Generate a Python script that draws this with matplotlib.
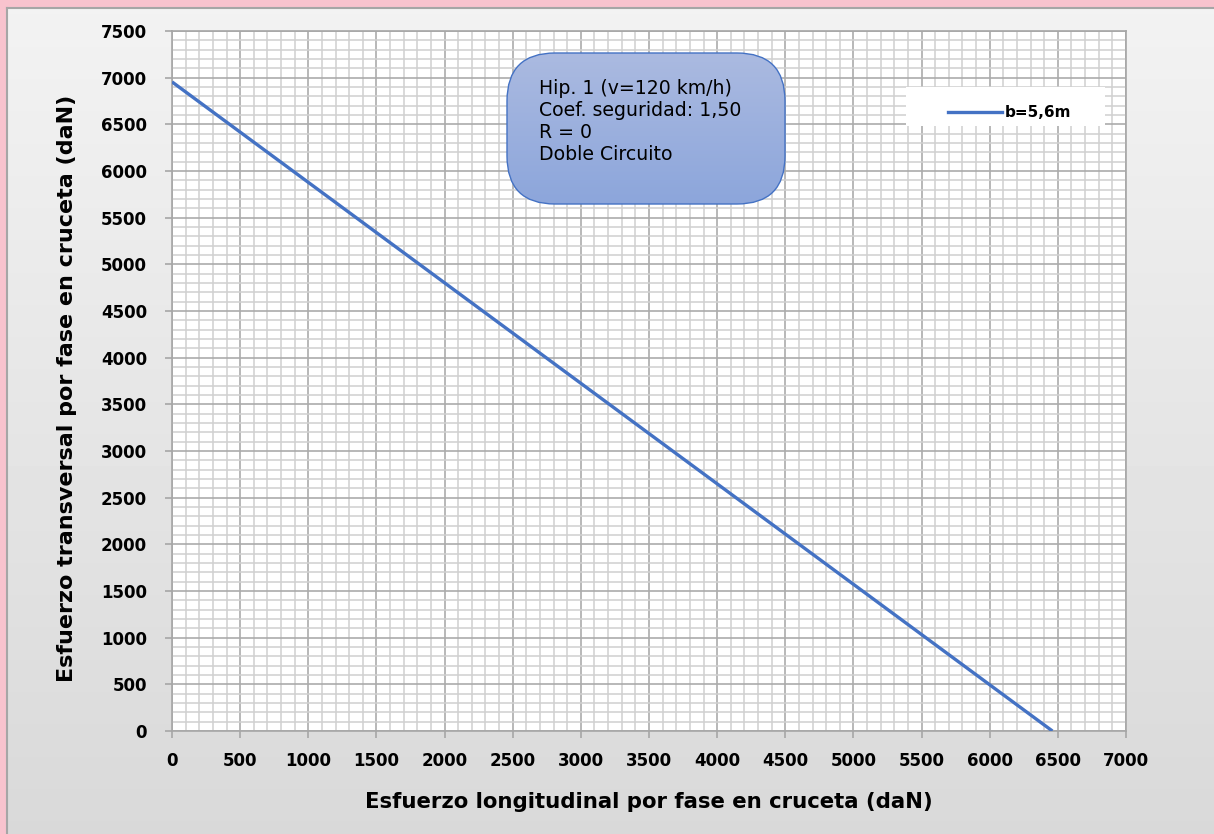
import numpy as np
import matplotlib
matplotlib.use("Agg")
import matplotlib.pyplot as plt
from matplotlib.patches import FancyBboxPatch, Rectangle
from matplotlib.ticker import MultipleLocator

# data
esf_long = [0, 6460]
esf_trans = [6955, 0]
serie = "b=5,6m"
info = ["Hip. 1 (v=120 km/h)", "Coef. seguridad: 1,50", "R = 0", "Doble Circuito"]
x_label = "Esfuerzo longitudinal por fase en cruceta (daN)"
y_label = "Esfuerzo transversal por fase en cruceta (daN)"

W, H = 1214, 834
fig = plt.figure(figsize=(W / 100, H / 100), dpi=100)
fig.patch.set_facecolor("#F8C3CE")

# background panel with a vertical gray gradient
bg = fig.add_axes([7 / W, 0, (W - 7) / W, (H - 8) / H])
grad = np.linspace(0.95, 0.85, 256).reshape(-1, 1)
bg.imshow(np.repeat(grad, 2, axis=1), cmap="gray", vmin=0, vmax=1,
          aspect="auto", extent=[0, 1, 0, 1])
bg.set_axis_off()
fig.add_artist(plt.Line2D([6.5 / W, 6.5 / W], [0, (H - 7.5) / H], color="#A6A6A6", lw=1.5))
fig.add_artist(plt.Line2D([6.5 / W, 1], [(H - 7.5) / H] * 2, color="#A6A6A6", lw=1.5))

# main chart
x0, x1, y0, y1 = 172, 1126, 31, 731
ax = fig.add_axes([x0 / W, (H - y1) / H, (x1 - x0) / W, (y1 - y0) / H])
ax.set_facecolor("white")
ax.plot(esf_long, esf_trans, color="#4472C4", lw=2.4, solid_capstyle="butt", zorder=3)
ax.set_xlim(0, 7000)
ax.set_ylim(0, 7500)
ax.xaxis.set_major_locator(MultipleLocator(500))
ax.yaxis.set_major_locator(MultipleLocator(500))
ax.xaxis.set_minor_locator(MultipleLocator(100))
ax.yaxis.set_minor_locator(MultipleLocator(100))
ax.grid(which="minor", color="#D0D0D0", lw=1.1)
ax.grid(which="major", color="#ABABAB", lw=1.2)
ax.set_axisbelow(True)
for s in ax.spines.values():
    s.set_color("#A6A6A6")
    s.set_linewidth(1.2)
ax.tick_params(which="minor", length=0)
ax.tick_params(which="major", length=5, color="#A6A6A6", width=1.2)
ax.tick_params(axis="x", pad=10)
ax.tick_params(axis="y", pad=13)
for lab in ax.get_xticklabels() + ax.get_yticklabels():
    lab.set_fontweight("bold")
    lab.set_fontsize(12)
ax.set_xlabel(x_label, fontsize=15.3, fontweight="bold", labelpad=16)
ax.set_ylabel(y_label, fontsize=16, fontweight="bold", labelpad=16)
ax.yaxis.set_label_coords(-0.1, 0.489)

# overlay in pixel coordinates for the text box and legend
ov = fig.add_axes([0, 0, 1, 1])
ov.set_xlim(0, W)
ov.set_ylim(H, 0)
ov.set_axis_off()

box = FancyBboxPatch((507, 53), 278, 151, boxstyle="round,pad=0,rounding_size=48",
                     facecolor="none", edgecolor="#4472C4", lw=1.0, zorder=3)
ov.add_patch(box)
bgrad = np.linspace(0, 1, 256).reshape(-1, 1)
top = np.array([0.67, 0.73, 0.88])
bot = np.array([0.55, 0.65, 0.86])
rgb = top + (bot - top) * bgrad[..., None]
img = ov.imshow(np.repeat(rgb, 2, axis=1), extent=[507, 785, 204, 53],
                aspect="auto", zorder=2)
img.set_clip_path(box)
for i, t in enumerate(info):
    ov.text(539, 88 + i * 22.3, t, fontsize=13.6, va="center", ha="left", zorder=4)

ov.add_patch(Rectangle((906, 87), 199, 39, facecolor="white", edgecolor="none", zorder=2))
ov.plot([948, 1002], [112, 112], color="#4472C4", lw=2.4, zorder=3)
ov.text(1005, 112, serie, fontsize=11, fontweight="bold", va="center", ha="left", zorder=4)
ov.set_xlim(0, W)
ov.set_ylim(H, 0)

fig.savefig("out.png", dpi=100, facecolor=fig.get_facecolor())
